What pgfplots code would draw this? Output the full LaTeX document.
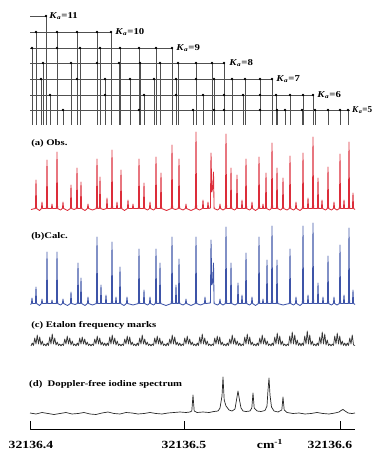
\documentclass[border=0pt]{standalone}
\usepackage{pgfplots}
\pgfplotsset{compat=1.18}
\usepackage{fontspec}
\setmainfont{Liberation Serif}
\definecolor{obsred}{RGB}{220,45,58}
\definecolor{calcblue}{RGB}{62,84,168}
\definecolor{etal}{RGB}{55,55,55}
\definecolor{ladder}{RGB}{80,80,80}
\tikzset{
  klab/.style={anchor=west, font=\bfseries\fontsize{9}{10}\selectfont, xscale=1.2, inner sep=1pt},
  plab/.style={anchor=west, font=\bfseries\fontsize{8.6}{10}\selectfont, xscale=1.25, inner sep=0pt},
  tlab/.style={anchor=base, font=\bfseries\fontsize{11}{12}\selectfont, xscale=1.25, inner sep=0pt}}
\begin{document}
\begin{tikzpicture}
\begin{axis}[scale only axis, width=373bp, height=450bp,
  xmin=0, xmax=373, ymin=0, ymax=450, hide axis, clip=false,
  every axis plot/.append style={line join=round},
  lvl/.style={only marks, mark=*, mark size=1.1pt, black,
    error bars/.cd, y dir=minus, y fixed=#1, error mark=none,
    error bar style={ladder, line width=0.7pt}}]
% ---- ladder diagram
\addplot[ladder, line width=0.7pt] coordinates {(30,434)(46,434)};
\addplot[ladder, line width=0.7pt] coordinates {(30,418)(111,418)};
\addplot[ladder, line width=0.7pt] coordinates {(30,402)(172,402)};
\addplot[ladder, line width=0.7pt] coordinates {(30,387)(225,387)};
\addplot[ladder, line width=0.7pt] coordinates {(30,371)(272,371)};
\addplot[ladder, line width=0.7pt] coordinates {(30,355)(313,355)};
\addplot[ladder, line width=0.7pt] coordinates {(30,340)(350,340)};
\addplot[lvl=109] coordinates {(46,434)};
\addplot[lvl=93] coordinates {(36,418)(57,418)(77,418)(97,418)(111,418)};
\addplot[lvl=77] coordinates {(32,402)(57,402)(80,402)(100,402)(120,402)(139,402)(156,402)(172,402)};
\addplot[lvl=62] coordinates {(43,387)(71,387)(97,387)(119,387)(140,387)(160,387)(178,387)(196,387)(212,387)(224,387)};
\addplot[lvl=46] coordinates {(41,371)(77,371)(105,371)(130,371)(154,371)(176,371)(196,371)(214,371)(232,371)(245,371)(260,371)(272,371)};
\addplot[lvl=30] coordinates {(50,355)(105,355)(144,355)(176,355)(203,355)(224,355)(243,355)(260,355)(276,355)(290,355)(303,355)(313,355)};
\addplot[lvl=15] coordinates {(63,340)(139,340)(193,340)(214,340)(224,340)(260,340)(277,340)(285,340)(302,340)(315,340)(328,340)(340,340)(348,340)};
\node[klab] at (axis cs:48,434) {\textit{K}\textsubscript{\textit{a}}=11};
\node[klab] at (axis cs:114,418) {\textit{K}\textsubscript{\textit{a}}=10};
\node[klab] at (axis cs:175,402) {\textit{K}\textsubscript{\textit{a}}=9};
\node[klab] at (axis cs:228,387) {\textit{K}\textsubscript{\textit{a}}=8};
\node[klab] at (axis cs:275,371) {\textit{K}\textsubscript{\textit{a}}=7};
\node[klab] at (axis cs:316,355) {\textit{K}\textsubscript{\textit{a}}=6};
\node[klab, xscale=0.85, inner sep=0pt] at (axis cs:352,340) {\textit{K}\textsubscript{\textit{a}}=5};
% ---- (a) observed
\node[plab] at (axis cs:31,307) {(a) Obs.};
\addplot[obsred, line width=0.85pt] coordinates {
(31,240.5)(35.4,241.5)(36,270)(36.6,241.5)(39.5,239.5)(41.4,241.5)(42,248)(42.6,241.5)
(46.4,241.5)(47,290)(47.6,241.5)(51.4,241.5)(52,246)(52.6,241.5)(56.4,241.5)(57,298)(57.6,241.5)
(60.5,240)(62.4,241.5)(63,248)(63.6,241.5)(67.5,239.5)(70.4,241.5)(71,265)(71.6,241.5)(74,240.5)
(76.4,241.5)(77,282)(77.6,241.5)(80.4,241.5)(81,268)(81.6,241.5)(85,239.5)(87.4,241.5)(88,246)(88.6,241.5)
(92.5,240)(96.4,241.5)(97,291)(97.6,241.5)(99.4,241.5)(100,273)(100.6,241.5)(103.5,240.5)
(106.4,241.5)(107,252)(107.6,241.5)(111.4,241.5)(112,300)(112.6,241.5)(116.4,241.5)(117,248)(117.6,241.5)
(120.4,241.5)(121,280)(121.6,241.5)(124.5,239.5)(127.4,241.5)(128,250)(128.6,241.5)(132.4,241.5)(133,246)(133.6,241.5)
(138.4,241.5)(139,291)(139.6,241.5)(143.4,241.5)(144,267)(144.6,241.5)(147.5,240)(149.4,241.5)(150,248)(150.6,241.5)
(153.5,240)(155.4,241.5)(156,293)(156.6,241.5)(160.4,241.5)(161,277)(161.6,241.5)(166.5,239.5)
(171.4,241.5)(172,305)(172.6,241.5)(175.5,240.5)(178.4,241.5)(179,291)(179.6,241.5)(183,240)
(185.4,241.5)(186,246)(186.6,241.5)(191,239.5)(195.4,241.5)(196,318)(196.6,241.5)(199.5,240)
(202.4,241.5)(203,250)(203.6,241.5)(207.4,241.5)(208,248)(208.6,241.5)
(210.4,242)(211,297)(211.8,258)(212.8,262)(213.5,278)(214.1,241.5)(217.5,240)
(219.4,241.5)(220,246)(220.6,241.5)(223,240)(225.4,241.5)(226,316)(226.6,241.5)
(230.4,241.5)(231,282)(231.6,241.5)(234.5,240)(236.4,241.5)(237,275)(237.6,241.5)
(241.4,241.5)(242,250)(242.6,241.5)(245.4,241.5)(246,291)(246.6,241.5)(249.5,240)
(251.4,241.5)(252,248)(252.6,241.5)(255.5,239.5)(258.4,241.5)(259,293)(259.6,241.5)
(262.4,241.5)(263,246)(263.6,241.5)(265.4,241.5)(266,277)(266.6,241.5)(269.5,240)
(271.4,241.5)(272,307)(272.6,241.5)(276.4,241.5)(277,282)(277.6,241.5)(280.5,240)
(282.4,241.5)(283,272)(283.6,241.5)(287,240)(289.4,241.5)(290,294)(290.6,241.5)(293.5,240)
(295.4,241.5)(296,248)(296.6,241.5)(300,239.5)(302.4,241.5)(303,297)(303.6,241.5)
(307.4,241.5)(308,252)(308.6,241.5)(312.4,241.5)(313,313)(313.6,241.5)(317.4,241.5)(318,272)(318.6,241.5)
(321.4,241.5)(322,250)(322.6,241.5)(325.5,240)(327.4,241.5)(328,283)(328.6,241.5)(331.5,240)
(333.4,241.5)(334,248)(334.6,241.5)(337,240)(339.4,241.5)(340,296)(340.6,241.5)
(343.4,241.5)(344,250)(344.6,241.5)(348.4,241.5)(349,308)(349.6,241.5)(352.4,241.5)(353,257)(353.6,241.5)(355,240.5)};
% ---- (b) calculated
\node[plab] at (axis cs:31,214) {(b)Calc.};
\addplot[calcblue, line width=0.85pt] coordinates {
(30.5,145.5)(31.4,146.5)(32,152)(32.6,146.5)(35.4,146.5)(36,163)(36.6,146.5)(39.5,144.5)
(41.4,146.5)(42,151)(42.6,146.5)(46.4,146.5)(47,198)(47.6,146.5)(51.4,146.5)(52,150)(52.6,146.5)
(56.4,146.5)(57,198)(57.6,146.5)(60.5,145)(62.4,146.5)(63,151)(63.6,146.5)(67.5,144.5)
(70.4,146.5)(71,158)(71.6,146.5)(75,145.5)(77.4,146.5)(78,187)(78.6,146.5)(80.4,146.5)(81,172)(81.6,146.5)
(85,144.5)(87.4,146.5)(88,153)(88.6,146.5)(92.5,145)(96.4,146.5)(97,213)(97.6,146.5)
(100.4,146.5)(101,165)(101.6,146.5)(105.4,146.5)(106,155)(106.6,146.5)(111.4,146.5)(112,208)(112.6,146.5)
(115.4,146.5)(116,153)(116.6,146.5)(119.4,146.5)(120,183)(120.6,146.5)(124,144.5)
(126.4,146.5)(127,153)(127.6,146.5)(133,145)(138.4,146.5)(139,201)(139.6,146.5)
(143.4,146.5)(144,160)(144.6,146.5)(147.5,145)(149.4,146.5)(150,153)(150.6,146.5)(153.5,145)
(155.4,146.5)(156,201)(156.6,146.5)(159.4,146.5)(160,187)(160.6,146.5)(166,144.5)
(171.4,146.5)(172,213)(172.6,146.5)(175.4,146.5)(176,165)(176.6,146.5)(178.4,146.5)(179,191)(179.6,146.5)
(183,145)(185.4,146.5)(186,151)(186.6,146.5)(191,144.5)(195.4,146.5)(196,213)(196.6,146.5)(200.5,145)
(204.4,146.5)(205,153)(205.6,146.5)(210.4,147)(211,210)(211.8,165)(212.8,168)(213.5,187)(214.1,146.5)(217.5,145)
(219.4,146.5)(220,151)(220.6,146.5)(223,145)(225.4,146.5)(226,223)(226.6,146.5)
(230.4,146.5)(231,187)(231.6,146.5)(235,145)(237.4,146.5)(238,167)(238.6,146.5)
(241.4,146.5)(242,155)(242.6,146.5)(245.4,146.5)(246,197)(246.6,146.5)(249.5,145)
(251.4,146.5)(252,153)(252.6,146.5)(255.5,144.5)(258.4,146.5)(259,213)(259.6,146.5)
(262.4,146.5)(263,151)(263.6,146.5)(266.4,146.5)(267,190)(267.6,146.5)(271.4,146.5)(272,224)(272.6,146.5)
(276.4,146.5)(277,190)(277.6,146.5)(283,145)(289.4,146.5)(290,201)(290.6,146.5)(293.5,145)
(295.4,146.5)(296,153)(296.6,146.5)(300,144.5)(302.4,146.5)(303,224)(303.6,146.5)
(307.4,146.5)(308,155)(308.6,146.5)(312.4,146.5)(313,227)(313.6,146.5)(317.4,146.5)(318,167)(318.6,146.5)
(322.4,146.5)(323,153)(323.6,146.5)(327.4,146.5)(328,194)(328.6,146.5)(331.5,145)
(333.4,146.5)(334,153)(334.6,146.5)(337,145)(339.4,146.5)(340,205)(340.6,146.5)
(343.4,146.5)(344,155)(344.6,146.5)(348.4,146.5)(349,222)(349.6,146.5)(352.4,146.5)(353,160)(353.6,146.5)(355,145.5)};
% ---- (c) etalon
\node[plab] at (axis cs:31,125) {(c) Etalon frequency marks};
\addplot[etal, line width=0.75pt] coordinates {
(31,104)(32.25,107)(33.5,104.5)(34.75,112)(36,106)(37.25,115)(38.5,106)(39.75,113)(41,105)(42.25,109)(43.5,104.5)(44.75,106)
(46,104)(47.25,107)(48.5,104.5)(49.75,113)(51,106)(52.25,116)(53.5,106)(54.75,112)(56,105)(57.25,108)(58.5,104.5)(59.75,106)
(61,104)(62.25,106)(63.5,104.5)(64.75,111)(66,106)(67.25,114)(68.5,106)(69.75,112)(71,105)(72.25,109)(73.5,104.5)(74.75,106)
(76,104)(77.25,107)(78.5,104.5)(79.75,112)(81,106)(82.25,113)(83.5,106)(84.75,111)(86,105)(87.25,108)(88.5,104.5)(89.75,106)
(91,104)(92.25,106)(93.5,104.5)(94.75,111)(96,106)(97.25,114)(98.5,106)(99.75,112)(101,105)(102.25,108)(103.5,104.5)(104.75,107)
(106,104)(107.25,107)(108.5,104.5)(109.75,113)(111,106)(112.25,115)(113.5,106)(114.75,112)(116,105)(117.25,109)(118.5,104.5)(119.75,106)
(121,104)(122.25,106)(123.5,104.5)(124.75,111)(126,106)(127.25,114)(128.5,106)(129.75,113)(131,105)(132.25,108)(133.5,104.5)(134.75,106)
(136,104)(137.25,107)(138.5,104.5)(139.75,112)(141,106)(142.25,115)(143.5,106)(144.75,111)(146,105)(147.25,108)(148.5,104.5)(149.75,106)
(151,104)(152.25,106)(153.5,104.5)(154.75,112)(156,106)(157.25,114)(158.5,106)(159.75,112)(161,105)(162.25,109)(163.5,104.5)(164.75,106)
(166,104)(167.25,107)(168.5,104.5)(169.75,111)(171,106)(172.25,115)(173.5,106)(174.75,113)(176,105)(177.25,108)(178.5,104.5)(179.75,107)
(181,104)(182.25,106)(183.5,104.5)(184.75,112)(186,106)(187.25,114)(188.5,106)(189.75,111)(191,105)(192.25,108)(193.5,104.5)(194.75,106)
(196,104)(197.25,107)(198.5,104.5)(199.75,113)(201,106)(202.25,116)(203.5,106)(204.75,112)(206,105)(207.25,109)(208.5,104.5)(209.75,106)
(211,104)(212.25,106)(213.5,104.5)(214.75,112)(216,106)(217.25,114)(218.5,106)(219.75,113)(221,105)(222.25,108)(223.5,104.5)(224.75,106)
(226,104)(227.25,107)(228.5,104.5)(229.75,111)(231,106)(232.25,115)(233.5,106)(234.75,112)(236,105)(237.25,109)(238.5,104.5)(239.75,107)
(241,104)(242.25,106)(243.5,104.5)(244.75,113)(246,106)(247.25,116)(248.5,106)(249.75,113)(251,105)(252.25,108)(253.5,104.5)(254.75,106)
(256,104)(257.25,107)(258.5,104.5)(259.75,112)(261,106)(262.25,115)(263.5,106)(264.75,112)(266,105)(267.25,109)(268.5,104.5)(269.75,106)
(271,104)(272.25,107)(273.5,104.5)(274.75,113)(276,106)(277.25,117)(278.5,106)(279.75,114)(281,105)(282.25,109)(283.5,104.5)(284.75,106)
(286,104)(287.25,106)(288.5,104.5)(289.75,114)(291,106)(292.25,118)(293.5,106)(294.75,115)(296,105)(297.25,110)(298.5,104.5)(299.75,107)
(301,104)(302.25,107)(303.5,104.5)(304.75,114)(306,106)(307.25,119)(308.5,106)(309.75,115)(311,105)(312.25,109)(313.5,104.5)(314.75,106)
(316,104)(317.25,107)(318.5,104.5)(319.75,113)(321,106)(322.25,118)(323.5,106)(324.75,116)(326,105)(327.25,110)(328.5,104.5)(329.75,106)
(331,104)(332.25,106)(333.5,104.5)(334.75,114)(336,106)(337.25,117)(338.5,106)(339.75,114)(341,105)(342.25,109)(343.5,104.5)(344.75,107)
(346,104)(347.25,107)(348.5,104.5)(349.75,112)(351,106)(352.25,115)(353.5,105)(355,104.5)};
% ---- (d) iodine
\node[plab] at (axis cs:29,66) {(d)\ \ Doppler-free iodine spectrum};
\addplot[black!85, line width=0.7pt] coordinates {
(30,37)(36,36)(42,37.5)(48,36.5)(54,35.5)(60,36.5)(66,37.5)(72,36)(78,36.5)(84,37.5)(90,36)(96,35.5)
(102,37)(108,38)(114,36.5)(120,36)(126,37.5)(132,37)(138,36)(144,36.5)(150,37.5)(156,36.5)(162,36)
(168,37)(174,37.5)(180,38)(186,37.5)(190,38)(191.8,39)(193,55)(194.2,39)(197,37.5)(203,38)(209,37.5)
(214,38.5)(218,39)(220,42)(222,54)(223,73)(224.2,50)(226,44)(227.5,42)(229,40)(232,39)(235,41)
(236.5,50)(238,59)(239.5,50)(241,42)(243,39)(246,38.5)(250,39)(251.8,42)(253,57)(254.2,42)(257,39)
(261,38.5)(265,39.5)(267,44)(268,60)(269,72)(270,55)(271.5,43)(274,39)(278,38)(281.8,40)(283,53)
(284.2,40)(287,37.5)(293,36.5)(299,37)(305,36)(311,36.5)(317,37.5)(323,36.5)(329,36)(335,37)(339,38)
(341,39.5)(343,40.5)(345,39)(348,37)(352,36.5)(355,37)};
% ---- wavenumber scale
\addplot[black, line width=0.6pt] coordinates {(30,29)(30,21)(355,21)};
\addplot[black, line width=0.6pt] coordinates {(184,21)(184,29)};
\addplot[black, line width=0.6pt] coordinates {(340,21)(340,29)};
\node[tlab] at (axis cs:31,2) {32136.4};
\node[tlab] at (axis cs:184,2) {32136.5};
\node[tlab] at (axis cs:270,2) {cm\textsuperscript{-1}};
\node[tlab] at (axis cs:330,2) {32136.6};
\end{axis}
\pgfresetboundingbox
\path[use as bounding box] (0,0) rectangle (373bp,450bp);
\end{tikzpicture}
\end{document}
